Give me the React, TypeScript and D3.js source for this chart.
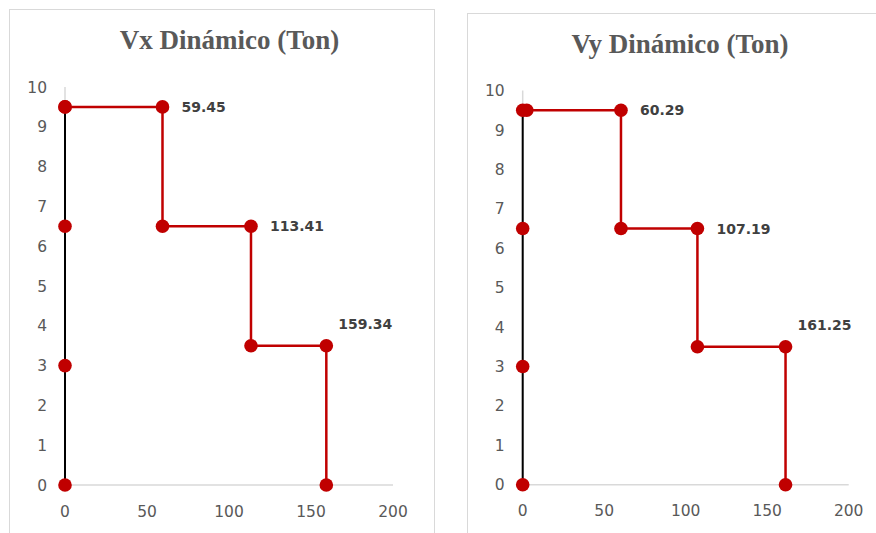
import React from "react";
import * as d3 from "d3";

// Story heights (m) marked along the vertical axis
const storyHeights = [0, 3, 6.5, 9.5];

// Shear step diagrams: (shear, height) vertices
const vxShear = [0, 59.45, 59.45, 113.41, 113.41, 159.34, 159.34];
const vxHeight = [9.5, 9.5, 6.5, 6.5, 3.5, 3.5, 0];
const vyShear = [2.5, 60.29, 60.29, 107.19, 107.19, 161.25, 161.25];
const vyHeight = [9.5, 9.5, 6.5, 6.5, 3.5, 3.5, 0];

// Vertices that carry a value label, and where it sits
const labelIndex = [1, 3, 5];
const labelPlace = ["right", "right", "above"];

const xTicks = [0, 50, 100, 150, 200];
const yTicks = [0, 1, 2, 3, 4, 5, 6, 7, 8, 9, 10];

const RED = "#c00000";
const GRID = "#d9d9d9";
const TEXT = "#595959";

type PanelProps = {
  title: string;
  shear: number[];
  height: number[];
  frame: { x: number; y: number; w: number; h: number };
  plot: { left: number; right: number; top: number; bottom: number };
  titleX: number;
  titleY: number;
};

function Panel({ title, shear, height, frame, plot, titleX, titleY }: PanelProps) {
  const x = d3.scaleLinear().domain([0, 200]).range([plot.left, plot.right]);
  const y = d3.scaleLinear().domain([0, 10]).range([plot.bottom, plot.top]);

  const line = d3
    .line<[number, number]>()
    .x((d) => x(d[0]))
    .y((d) => y(d[1]));

  const stepPts: [number, number][] = shear.map((s, i) => [s, height[i]]);
  const storyPts: [number, number][] = storyHeights.map((h) => [0, h]);

  return (
    <g>
      <rect
        x={frame.x}
        y={frame.y}
        width={frame.w}
        height={frame.h}
        fill="#fff"
        stroke={GRID}
        strokeWidth={1}
      />
      <text
        x={titleX}
        y={titleY}
        textAnchor="middle"
        fontFamily="'Liberation Serif', 'Times New Roman', serif"
        fontWeight="bold"
        fontSize={27}
        fill={TEXT}
      >
        {title}
      </text>

      {/* axes */}
      <line x1={x(0)} x2={x(200)} y1={y(0)} y2={y(0)} stroke={GRID} strokeWidth={1.5} />
      <line x1={x(0)} x2={x(0)} y1={y(0)} y2={y(10)} stroke={GRID} strokeWidth={1.5} />

      {yTicks.map((t) => (
        <text
          key={"y" + t}
          x={plot.left - 18}
          y={y(t)}
          dy="0.36em"
          textAnchor="end"
          fontFamily="'DejaVu Sans', sans-serif"
          fontSize={15.5}
          fill={TEXT}
        >
          {t}
        </text>
      ))}
      {xTicks.map((t) => (
        <text
          key={"x" + t}
          x={x(t)}
          y={plot.bottom + 26}
          dy="0.36em"
          textAnchor="middle"
          fontFamily="'DejaVu Sans', sans-serif"
          fontSize={15.5}
          fill={TEXT}
        >
          {t}
        </text>
      ))}

      {/* story line */}
      <path d={line(storyPts) ?? ""} fill="none" stroke="#000" strokeWidth={2} />
      {/* shear step line */}
      <path d={line(stepPts) ?? ""} fill="none" stroke={RED} strokeWidth={2.5} />

      {storyPts.map((p, i) => (
        <circle key={"s" + i} cx={x(p[0])} cy={y(p[1])} r={6.8} fill={RED} />
      ))}
      {stepPts.map((p, i) => (
        <circle key={"p" + i} cx={x(p[0])} cy={y(p[1])} r={6.8} fill={RED} />
      ))}

      {labelIndex.map((idx, k) => {
        const px = x(shear[idx]);
        const py = y(height[idx]);
        const above = labelPlace[k] === "above";
        return (
          <text
            key={"l" + idx}
            x={above ? px + 12 : px + 19}
            y={above ? py - 22 : py}
            dy="0.36em"
            fontFamily="'DejaVu Sans', sans-serif"
            fontWeight="bold"
            fontSize={14}
            fill="#404040"
          >
            {shear[idx].toFixed(2)}
          </text>
        );
      })}
    </g>
  );
}

export default function App() {
  return (
    <svg
      width={876}
      height={533}
      style={{ position: "absolute", left: 0, top: 0, display: "block", background: "#fff" }}
    >
      <Panel
        title="Vx Dinámico (Ton)"
        shear={vxShear}
        height={vxHeight}
        frame={{ x: 9.5, y: 9.5, w: 425, h: 540 }}
        plot={{ left: 65, right: 393, top: 87, bottom: 485 }}
        titleX={229.5}
        titleY={49}
      />
      <Panel
        title="Vy Dinámico (Ton)"
        shear={vyShear}
        height={vyHeight}
        frame={{ x: 467.5, y: 13.5, w: 420, h: 540 }}
        plot={{ left: 522.7, right: 848.7, top: 90.5, bottom: 484.7 }}
        titleX={680}
        titleY={53}
      />
    </svg>
  );
}
